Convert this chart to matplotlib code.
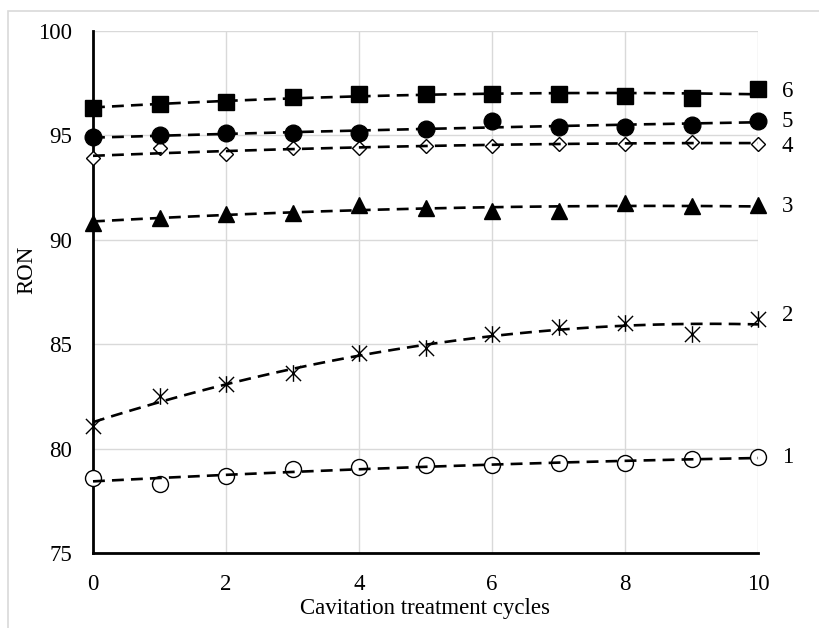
import numpy as np
import matplotlib
matplotlib.use("Agg")
import matplotlib.pyplot as plt
from matplotlib.path import Path
from matplotlib.patches import Rectangle

plt.rcParams['font.family'] = ['Liberation Serif', 'DejaVu Serif']

cycles = [0, 1, 2, 3, 4, 5, 6, 7, 8, 9, 10]
s1 = [78.6, 78.3, 78.7, 79.0, 79.1, 79.2, 79.2, 79.3, 79.3, 79.5, 79.6]
s2 = [81.1, 82.5, 83.1, 83.6, 84.6, 84.8, 85.5, 85.8, 86.0, 85.5, 86.2]
s3 = [90.8, 91.05, 91.25, 91.3, 91.65, 91.5, 91.4, 91.4, 91.75, 91.6, 91.65]
s4 = [93.9, 94.4, 94.1, 94.4, 94.4, 94.5, 94.5, 94.6, 94.6, 94.7, 94.6]
s5 = [94.9, 95.0, 95.1, 95.1, 95.1, 95.3, 95.7, 95.4, 95.4, 95.5, 95.7]
s6 = [96.3, 96.5, 96.6, 96.85, 96.97, 97.0, 97.0, 97.0, 96.9, 96.8, 97.2]
series_labels = ["1", "2", "3", "4", "5", "6"]
label_y = [79.7, 86.5, 91.7, 94.6, 95.8, 97.2]

W, H = 819, 628
FS = 16.5
fig = plt.figure(figsize=(W / 100, H / 100), dpi=100)
fig.patches.append(Rectangle((8 / W, -0.1), 1.2, 1 - 11 / H + 0.1, transform=fig.transFigure,
                             fill=False, edgecolor='#d9d9d9', linewidth=1.2, zorder=0))
ax = fig.add_axes([93 / W, 1 - 553 / H, (758 - 93) / W, (553 - 31) / H])

# asterisk-like star marker (X with vertical bar)
star = Path([(-1, -1), (1, 1), (-1, 1), (1, -1), (0, -1.1), (0, 1.1)],
            [Path.MOVETO, Path.LINETO, Path.MOVETO, Path.LINETO, Path.MOVETO, Path.LINETO])

styles = [
    dict(marker='o', ms=11.5, mfc='white', mec='black', mew=1.0),
    dict(marker=star, ms=12, mfc='none', mec='black', mew=1.0),
    dict(marker='^', ms=11.5, mfc='black', mec='black', mew=1.0),
    dict(marker='D', ms=7.5, mfc='white', mec='black', mew=1.0),
    dict(marker='o', ms=12, mfc='black', mec='black', mew=1.0),
    dict(marker='s', ms=11.5, mfc='black', mec='black', mew=1.0),
]

x = np.array(cycles, dtype=float)
xf = np.linspace(0, 10, 200)
for ys, st, lab, ly in zip([s1, s2, s3, s4, s5, s6], styles, series_labels, label_y):
    ys = np.array(ys)
    ax.plot(x, ys, linestyle='none', zorder=3, clip_on=False, **st)
    coef = np.polyfit(x, ys, 2)
    line, = ax.plot(xf, np.polyval(coef, xf), color='black', linewidth=1.9, zorder=4,
                    clip_on=False)
    line.set_dashes((4.5, 2.7))
    ax.annotate(lab, xy=(10, ly), xytext=(17, 0), textcoords='offset points',
                ha='left', va='center_baseline', fontsize=FS)

ax.set_xlim(0, 10)
ax.set_ylim(75, 100)
ax.set_xticks([0, 2, 4, 6, 8, 10])
ax.set_yticks([75, 80, 85, 90, 95, 100])
ax.grid(True, color='#d9d9d9', linewidth=1.0, zorder=0)
ax.set_axisbelow(True)
for side in ['top', 'right']:
    ax.spines[side].set_visible(False)
for side in ['left', 'bottom']:
    ax.spines[side].set_linewidth(2.0)
    ax.spines[side].set_color('black')
    ax.spines[side].set_zorder(2.5)
ax.tick_params(axis='both', length=0, labelsize=FS)
ax.tick_params(axis='y', pad=15)
ax.tick_params(axis='x', pad=15)
ax.set_xlabel('Cavitation treatment cycles', fontsize=FS, labelpad=2)
fig.text(27 / W, 1 - 270 / H, 'RON', rotation=90, ha='center', va='center', fontsize=FS)

fig.savefig('out.png', dpi=100)
